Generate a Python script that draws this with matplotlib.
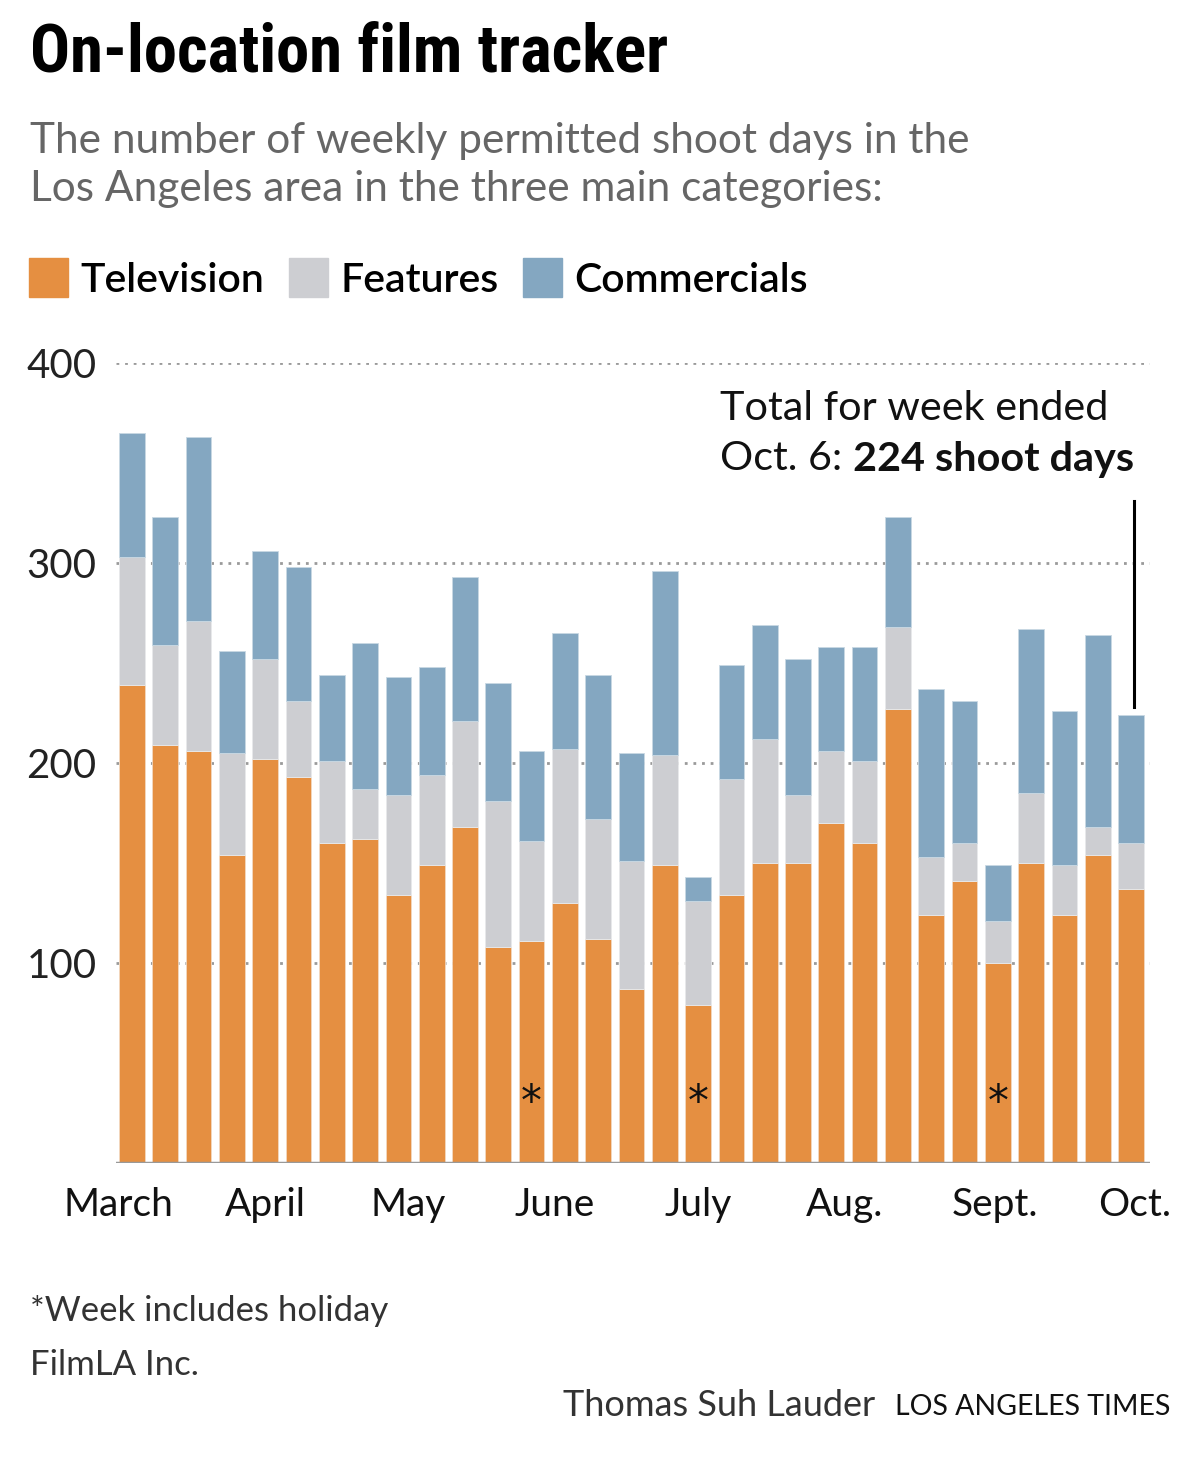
import matplotlib
matplotlib.use('Agg')
import matplotlib.pyplot as plt
import numpy as np

# weekly permitted shoot days, March - Oct. 6
television = [239, 209, 206, 154, 202, 193, 160, 162, 134, 149, 168, 108, 111, 130, 112, 87,
              149, 79, 134, 150, 150, 170, 160, 227, 124, 141, 100, 150, 124, 154, 137]
features = [64, 50, 65, 51, 50, 38, 41, 25, 50, 45, 53, 73, 50, 77, 60, 64,
            55, 52, 58, 62, 34, 36, 41, 41, 29, 19, 21, 35, 25, 14, 23]
commercials = [62, 64, 92, 51, 54, 67, 43, 73, 59, 54, 72, 59, 45, 58, 72, 54,
               92, 12, 57, 57, 68, 52, 57, 55, 84, 71, 28, 82, 77, 96, 64]

holiday_weeks = [12, 17, 26]
months = ['March', 'April', 'May', 'June', 'July', 'Aug.', 'Sept.', 'Oct.']
month_pos = [-0.42, 4.0, 8.3, 12.7, 17.0, 21.4, 25.9, 30.1]

orange = '#e58f41'
grey = '#cdced2'
blue = '#84a7c1'

plt.rcParams['font.family'] = ['Lato', 'DejaVu Sans']

fig = plt.figure(figsize=(12, 14.63), dpi=100)
ax = fig.add_axes([116 / 1200, 1 - 1163 / 1463, 1034 / 1200, 800 / 1463])

x = np.arange(len(television))
tv = np.array(television)
ft = np.array(features)
cm = np.array(commercials)

ax.bar(x, tv, width=0.77, color=orange, edgecolor='#f3d9c0', linewidth=0.6, zorder=3)
ax.bar(x, ft, bottom=tv, width=0.77, color=grey, edgecolor='#e8e9eb', linewidth=0.6, zorder=3)
ax.bar(x, cm, bottom=tv + ft, width=0.77, color=blue, edgecolor='#c9d8e3', linewidth=0.6, zorder=3)

ax.set_xlim(-0.48, 30.57)
ax.set_ylim(0, 400)

# dotted grid lines
for y in [100, 200, 300, 400]:
    ax.axhline(y, color='#9a9a9a', linestyle=(0, (1, 2.1)), linewidth=2.0, zorder=1)
ax.axhline(0, color='#999999', linewidth=2.5, zorder=4)

for s in ax.spines.values():
    s.set_visible(False)
ax.set_yticks([100, 200, 300, 400])
ax.set_yticklabels(['100', '200', '300', '400'], fontsize=29, color='#222222')
ax.tick_params(axis='y', length=0, pad=14)
ax.set_xticks(month_pos)
ax.set_xticklabels(months, fontsize=28, color='#111111')
ax.tick_params(axis='x', length=0, pad=17)

# holiday asterisks
for i in holiday_weeks:
    ax.text(i, 30, '*', ha='center', va='center', fontsize=30, family='DejaVu Sans',
            color='#111111', zorder=5)

# annotation for latest week
ax.plot([30.1, 30.1], [228, 331], color='black', linewidth=2.2, clip_on=False, zorder=5)
ax.text((720 - 132) / 33.3, 377, 'Total for week ended', fontsize=29.8, color='#111111',
        ha='left', va='center')
t = ax.text((720 - 132) / 33.3, 352, 'Oct. 6: ', fontsize=29.8, color='#111111',
            ha='left', va='center')
ax.annotate('224 shoot days', xy=(1, 0), xycoords=t, va='bottom', ha='left',
            fontsize=29.8, fontweight='bold', color='#111111')

# titles
fig.text(30 / 1200, 1 - 54 / 1463, 'On-location film tracker', fontsize=48,
         fontweight='bold', family=['Roboto Condensed', 'Liberation Sans Narrow', 'Lato'],
         color='black', va='center', ha='left')
fig.text(30 / 1200, 1 - 141 / 1463, 'The number of weekly permitted shoot days in the',
         fontsize=30.5, color='#666666', va='center', ha='left')
fig.text(30 / 1200, 1 - 189 / 1463, 'Los Angeles area in the three main categories:',
         fontsize=30.5, color='#666666', va='center', ha='left')

# legend
legend_items = [('Television', orange, 29), ('Features', grey, 289), ('Commercials', blue, 523)]
for label, color, px in legend_items:
    fig.patches.append(plt.Rectangle((px / 1200, 1 - 297 / 1463), 39 / 1200, 39 / 1463,
                                     transform=fig.transFigure, color=color))
    fig.text((px + 51) / 1200, 1 - 280 / 1463, label, fontsize=29.5, fontweight='semibold',
             color='black', va='center', ha='left')

# footer
fig.text(30 / 1200, 1 - 1311 / 1463, '*Week includes holiday', fontsize=25,
         color='#333333', va='center', ha='left')
fig.text(30 / 1200, 1 - 1365 / 1463, 'FilmLA Inc.', fontsize=25,
         color='#333333', va='center', ha='left')
fig.text(875 / 1200, 1 - 1405 / 1463, 'Thomas Suh Lauder', fontsize=26,
         color='#333333', va='center', ha='right')
fig.text(1170 / 1200, 1 - 1407 / 1463, 'LOS ANGELES TIMES', fontsize=20.5,
         color='#111111', va='center', ha='right')

fig.savefig('out.png', dpi=100)
